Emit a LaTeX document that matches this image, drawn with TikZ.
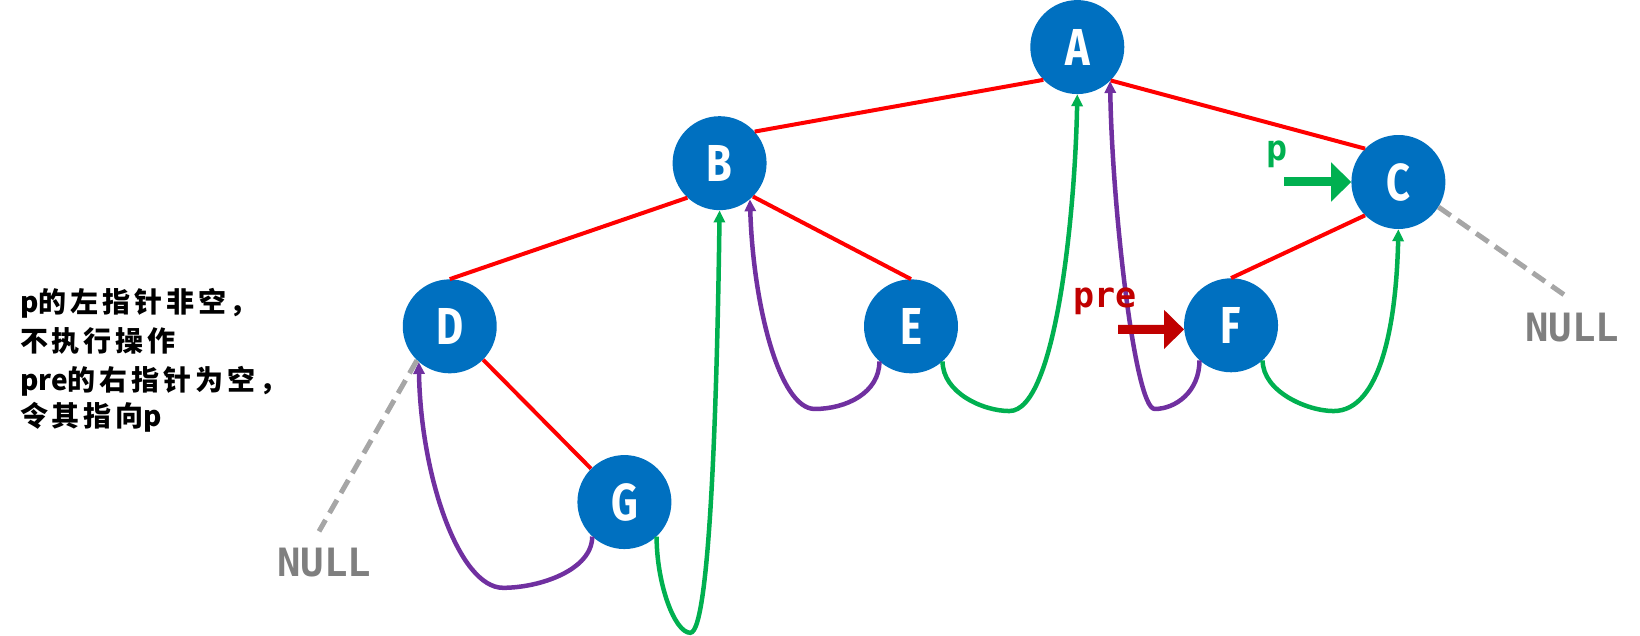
\documentclass[tikz,border=0pt]{standalone}
\usepackage{fontspec}
\usetikzlibrary{arrows.meta}
\newfontfamily\cjkfont[LetterSpace=14]{Noto Sans CJK SC}
\newfontfamily\cjkplain{Noto Sans CJK SC}
\newfontfamily\letterfont[FakeStretch=0.8]{Fira Sans}
\newfontfamily\monofont{DejaVu Sans Mono}
\definecolor{nodeblue}{HTML}{0070C0}
\definecolor{edgered}{HTML}{FF0000}
\definecolor{thgreen}{HTML}{00B050}
\definecolor{thpurple}{HTML}{7030A0}
\definecolor{darkred}{HTML}{C00000}
\definecolor{nullgray}{HTML}{7F7F7F}
\definecolor{dashgray}{HTML}{A6A6A6}
\newcommand{\lat}[1]{{\cjkplain\bfseries #1}}
\tikzset{
  tnode/.style={circle,fill=nodeblue,minimum size=94pt,inner sep=0pt,text=white,
    font=\letterfont\bfseries\fontsize{52}{52}\selectfont},
  treeedge/.style={draw=edgered,line width=4pt},
  thread/.style={line width=4.5pt,-{Triangle[length=12pt,width=11pt]}},
  grthread/.style={thread,draw=thgreen},
  puthread/.style={thread,draw=thpurple},
  nullline/.style={draw=dashgray,line width=5pt,dash pattern=on 15pt off 8pt},
  nulltext/.style={text=nullgray,font=\monofont\bfseries\fontsize{39}{39}\selectfont,inner sep=0pt},
  bigarrow/.style={line width=9pt,-{Triangle[length=20pt,width=38pt]}},
  ptrlabel/.style={font=\monofont\bfseries\fontsize{35}{35}\selectfont,inner sep=0pt,anchor=base west},
  cjktext/.style={font=\cjkfont\bfseries\fontsize{28}{38}\selectfont,inner sep=0pt,anchor=base west}
}
\begin{document}
\begin{tikzpicture}[x=1.046pt,y=-1.046pt]
\useasboundingbox (0,0) rectangle (1568,608);
% nodes
\node[tnode] (A) at (1030,45) {A};
\node[tnode] (B) at (688,156) {B};
\node[tnode] (C) at (1337,174) {C};
\node[tnode] (D) at (430,312) {D};
\node[tnode] (E) at (871,312) {E};
\node[tnode] (F) at (1177,311) {F};
\node[tnode] (G) at (597,480) {G};
% tree edges
\draw[treeedge] (B.42) -- (A.224);
\draw[treeedge] (A.-45) -- (C.135);
\draw[treeedge] (B.227) -- (D.90);
\draw[treeedge] (B.-45) -- (E.90);
\draw[treeedge] (C.225) -- (F.90);
\draw[treeedge] (D.-45) -- (G.135);
% threads
\coordinate (g1) at (481,562);
\coordinate (g2) at (660,605);
\coordinate (e1) at (779,391);
\coordinate (e2) at (965,393);
\coordinate (f1) at (1104,391);
\coordinate (f2) at (1275,393);
\draw[puthread] (G.227) .. controls +(0,32) and +(35,0) .. (g1) .. controls +(-42,0) and +(2,110) .. (D.229);
\draw[grthread] (G.313) .. controls +(0,45) and +(-15,0) .. (g2) .. controls +(20,0) and +(-2,150) .. (B.270);
\draw[puthread] (E.228) .. controls +(0,30) and +(30,0) .. (e1) .. controls +(-34,0) and +(3,100) .. (B.-50);
\draw[grthread] (E.312) .. controls +(0,30) and +(-25,0) .. (e2) .. controls +(45,0) and +(-2,110) .. (A.270);
\draw[puthread] (F.228) .. controls +(0,30) and +(20,0) .. (f1) .. controls +(-19,0) and +(2,120) .. (A.-46);
\draw[grthread] (F.312) .. controls +(0,30) and +(-25,0) .. (f2) .. controls +(45,0) and +(-2,90) .. (C.270);
% null links
\node[nulltext] (nullL) at (310,538) {NULL};
\node[nulltext] (nullR) at (1503,313) {NULL};
\coordinate (nl) at (305,508);
\coordinate (nr) at (1500,285);
\draw[nullline] (D.226) -- (nl);
\draw[nullline] (C.-32) -- (nr);
% pointer arrows
\coordinate (pstart) at (1228,174);
\coordinate (prestart) at (1069,315);
\draw[bigarrow,draw=thgreen] (pstart) -- (C.west);
\draw[bigarrow,draw=darkred] (prestart) -- (F.185);
\node[ptrlabel,text=thgreen] (plabel) at (1211,153) {p};
\node[ptrlabel,text=darkred] (prelabel) at (1026,294) {pre};
% explanation
\node[cjktext] (t1) at (19,299) {\lat{p}的左指针非空，};
\node[cjktext] (t2) at (19,336) {不执行操作};
\node[cjktext] (t3) at (19,373) {\lat{pre}的右指针为空，};
\node[cjktext] (t4) at (19,408) {令其指向\lat{p}};
\end{tikzpicture}
\end{document}
